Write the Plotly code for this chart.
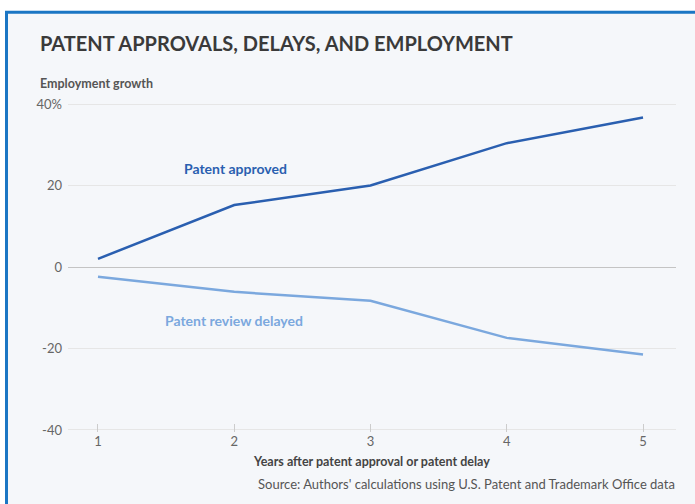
import plotly.graph_objects as go

years = [1, 2, 3, 4, 5]
approved = [2.0, 15.2, 20.0, 30.4, 36.7]
delayed = [-2.4, -6.1, -8.3, -17.4, -21.5]
y_ticks = [-40, -20, 0, 20, 40]
y_tick_text = ["-40", "-20", "0", "20", "40%"]

FONT = "Lato"
W, H = 695, 504
ml, mr, mt, mb = 68, 19, 101.5, 71.5
pw, ph = W - ml - mr, H - mt - mb

def px(xp):
    return (xp - ml) / pw

def py(yp):
    return 1 - (yp - mt) / ph

fig = go.Figure()
fig.add_trace(go.Scatter(x=years, y=approved, mode="lines",
                         line=dict(color="#2a5fb0", width=2.5), hoverinfo="skip"))
fig.add_trace(go.Scatter(x=years, y=delayed, mode="lines",
                         line=dict(color="#7ba8de", width=2.5), hoverinfo="skip"))

fig.add_shape(type="rect", xref="paper", yref="paper",
              x0=px(6.5), x1=px(720), y0=py(530), y1=py(11.5),
              line=dict(color="#1b76c4", width=3), fillcolor="#f5f7fa", layer="below")

fig.update_layout(
    width=W, height=H,
    margin=dict(l=ml, r=mr, t=mt, b=mb),
    paper_bgcolor="white", plot_bgcolor="rgba(0,0,0,0)",
    showlegend=False,
    font=dict(family=FONT, color="#666666", size=13),
    xaxis=dict(range=[0.78, 5.242], tickvals=years, ticktext=[str(v) for v in years],
               showgrid=False, zeroline=False, showline=False,
               ticks="inside", ticklen=8, tickcolor="#cccccc", tickwidth=1,
               tickfont=dict(size=13, color="#666666"), fixedrange=True),
    yaxis=dict(range=[-40.5, 40.5], tickvals=y_ticks, ticktext=y_tick_text,
               showgrid=True, gridcolor="#e6e6e6", gridwidth=1,
               zeroline=True, zerolinecolor="#c4c4c4", zerolinewidth=1.2,
               showline=False, ticks="", ticklabelstandoff=5,
               tickfont=dict(size=13, color="#666666"), fixedrange=True),
)

annotations = [
    dict(text="<b>PATENT APPROVALS, DELAYS, AND EMPLOYMENT</b>", x=px(38), y=py(42),
         xanchor="left", yanchor="middle", font=dict(size=20, color="#3a3a3a")),
    dict(text="<b>Employment growth</b>", x=px(38), y=py(83), xanchor="left", yanchor="middle",
         font=dict(size=12.5, color="#555555")),
    dict(text="<b>Years after patent approval or patent delay</b>", x=px(371), y=py(462),
         xanchor="center", yanchor="middle", font=dict(size=12.5, color="#444444")),
    dict(text="Source: Authors' calculations using U.S. Patent and Trademark Office data",
         x=px(677), y=py(485), xanchor="right", yanchor="middle",
         font=dict(size=13, color="#555555")),
]
for a in annotations:
    a.update(xref="paper", yref="paper", showarrow=False)
    fig.add_annotation(**a)

fig.add_annotation(text="<b>Patent approved</b>", x=2.01, y=24.2, xref="x", yref="y",
                   showarrow=False, font=dict(size=14, color="#2a5fb0"))
fig.add_annotation(text="<b>Patent review delayed</b>", x=2.0, y=-13.2, xref="x", yref="y",
                   showarrow=False, font=dict(size=14, color="#7ba8de"))

fig.write_html("out.html", config={"displayModeBar": False})
